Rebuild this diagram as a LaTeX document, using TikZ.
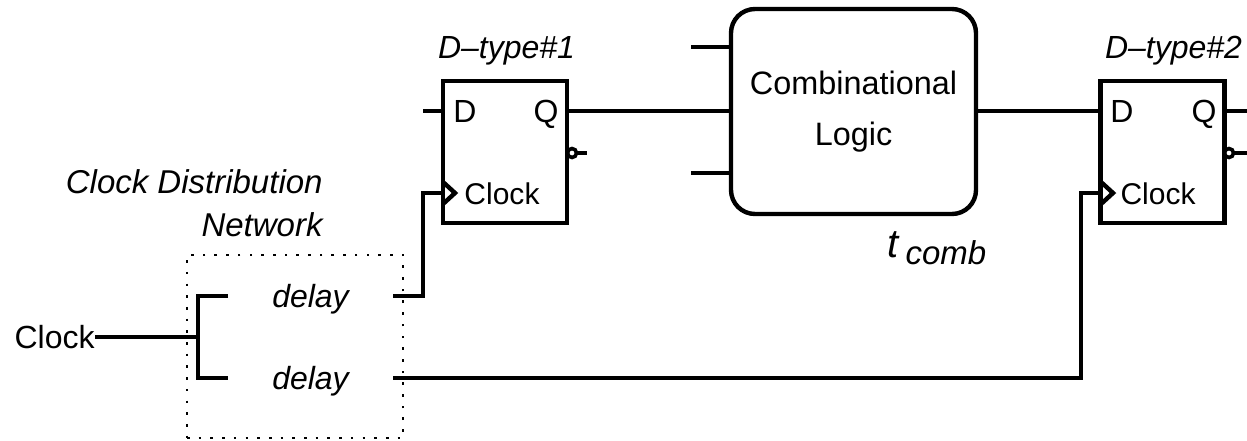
\documentclass[tikz,border=0pt]{standalone}
\usepackage{fontspec}
\setmainfont{Liberation Sans}
\usetikzlibrary{positioning}
\tikzset{
    wire/.style={line width=2.2pt},
    label/.style={font=\fontsize{16}{20}\selectfont},
    slanted/.style={font=\fontsize{16}{20}\selectfont\itshape},
    pin/.style={font=\fontsize{16}{18}\selectfont, inner sep=0pt, anchor=base},
    clockpin/.style={font=\fontsize{15}{18}\selectfont, inner sep=0pt, anchor=base},
    ff/.style={draw, line width=2.2pt, minimum width=62pt, minimum height=71pt, outer sep=0pt},
    delaybox/.style={slanted, minimum width=82.5pt, inner sep=0pt, outer sep=0pt, text height=11.5pt, text depth=0.5pt},
    bubble/.style={circle, draw, line width=1.8pt, fill=white, minimum size=4.5pt, inner sep=0pt, outer sep=0pt},
}
\begin{document}
\begin{tikzpicture}[x=0.5pt, y=-0.5pt]
    \useasboundingbox (0, 0) rectangle (1247, 440);
    % flip-flops
    \node[ff] (ff1) at (505, 152) {};
    \node[ff] (ff2) at (1162.5, 152) {};
    \node[slanted] (name1) at (506.5, 51) {D--type\#1};
    \node[slanted] (name2) at (1173.5, 51) {D--type\#2};
    \node[pin] (d1) at (465, 122) {D};
    \node[pin] (q1) at (546, 122) {Q};
    \node[clockpin] (clk1) at (502, 204) {Clock};
    \node[pin] (d2) at (1122, 122) {D};
    \node[pin] (q2) at (1204, 122) {Q};
    \node[clockpin] (clk2) at (1158, 204) {Clock};
    \node[bubble] (nq1) at (572, 153) {};
    \node[bubble] (nq2) at (1229, 153) {};
    % logic block
    \node[draw, line width=2.2pt, rounded corners=12pt, minimum width=122.5pt, minimum height=102.5pt,
        outer sep=0pt, align=center, font=\fontsize{16.2}{25.5}\selectfont] (logic) at (853.5, 111.5) {Combinational\\Logic};
    \node[font=\fontsize{20}{20}\selectfont\itshape, anchor=base west, inner sep=0pt] (tcomb) at (887, 257) {t\hspace{3.5pt}\raisebox{-3.5pt}{\fontsize{16.5}{20}\selectfont comb}};
    % clock tree
    \node[draw, dotted, line width=1.3pt, dash pattern=on 1.3pt off 4.55pt, minimum width=108pt, minimum height=91.5pt, outer sep=0pt] (net) at (295, 346.5) {};
    \node[anchor=east, align=right, font=\fontsize{16.5}{21.5}\selectfont\itshape, inner sep=0pt] (nettext) at (323, 203) {Clock Distribution\\Network};
    \node[delaybox] (delay1) at (310.5, 296) {delay};
    \node[delaybox] (delay2) at (310.5, 378) {delay};
    \node[label, anchor=east, inner sep=0pt] (clkin) at (95, 337) {Clock};
    \coordinate (split) at (198, 337);
    \coordinate (in1) at (423, 111);
    \coordinate (in2) at (1101, 111);
    \coordinate (c1) at (443, 193);
    \coordinate (c2) at (1101, 193);
    \coordinate (q1out) at (567, 111);
    \coordinate (q2out) at (1224, 111);
    \coordinate (top) at (731, 47);
    \coordinate (bot) at (731, 173);
    % wires
    \draw[wire] (in1) -- (in1 -| ff1.west);
    \draw[wire] (q1out) -- (q1out -| logic.west);
    \draw[wire] (top) -- ++(-40, 0);
    \draw[wire] (bot) -- ++(-40, 0);
    \draw[wire] (in2 -| logic.east) -- (in2);
    \draw[wire] (q2out) -- ++(23, 0);
    \draw[wire] (nq1.east) -- ++(10.5, 0);
    \draw[wire] (nq2.east) -- ++(13, 0);
    \draw[wire] (clkin.east) -- (split);
    \draw[wire] (delay1.west) -| (split) |- (delay2.west);
    \draw[wire] (delay1.east) -| (423, 193) -- (c1);
    \draw[wire] (delay2.east) -| (1081, 193) -- (c2);
    % clock pins
    \draw[wire] (443, 182) -- (455, 193) -- (443, 204);
    \draw[wire] (1101, 182) -- (1113, 193) -- (1101, 204);
\end{tikzpicture}
\end{document}
